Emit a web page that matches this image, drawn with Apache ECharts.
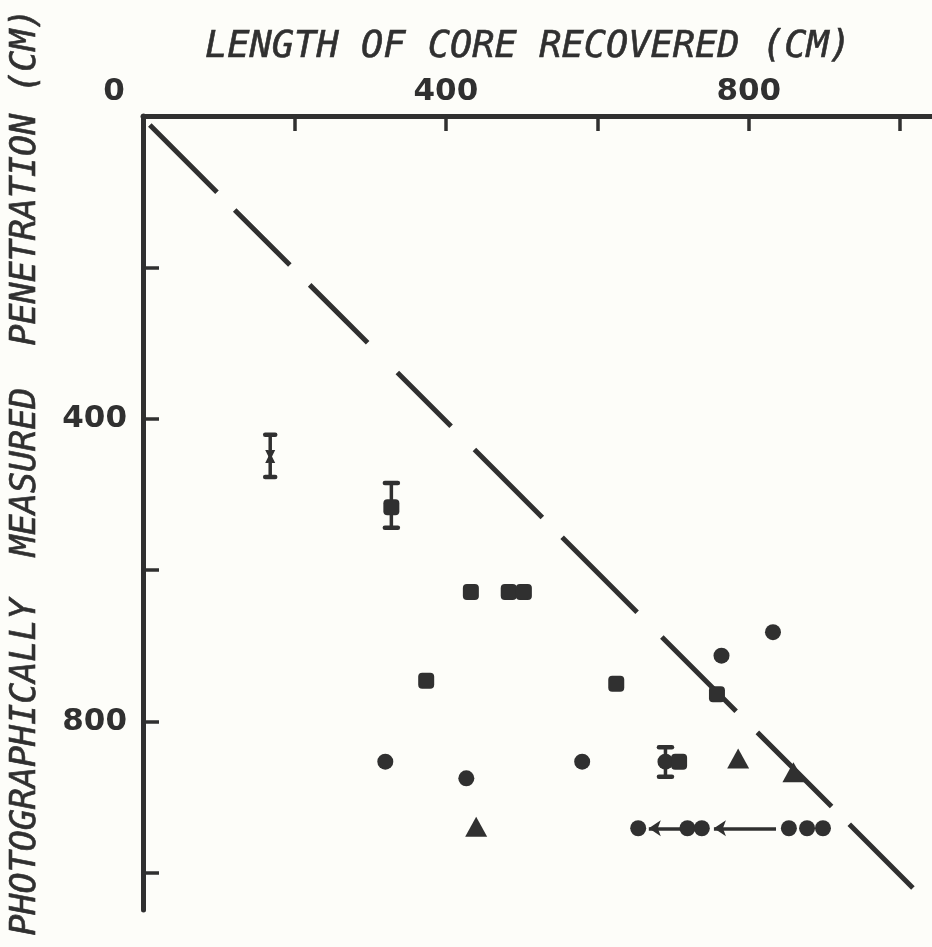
<!DOCTYPE html>
<html>
<head>
<meta charset="utf-8">
<script src="https://cdn.jsdelivr.net/npm/echarts@6/dist/echarts.min.js"></script>
<style>
  html, body { margin: 0; padding: 0; background: #fdfdf9; }
  #chart { width: 932px; height: 947px; }
</style>
</head>
<body>
<div id="chart"></div>
<script>
// Axis ticks and labels (cm)
const xTickValues = [200, 400, 600, 800, 1000];
const xLabelValues = [0, 400, 800];
const yTickValues = [200, 400, 600, 800, 1000];
const yLabelValues = [400, 800];

// [core length recovered, measured penetration] in cm
const circlePoints = [
  [832, 682], [764, 713], [320, 853], [427, 875], [580, 853], [690, 853],
  [654, 941], [719, 941], [738, 941], [853, 941], [877, 941], [898, 941]
];
const squarePoints = [
  [328, 517], [433, 629], [483, 629], [503, 629], [374, 746],
  [625, 750], [758, 764], [708, 853]
];
const trianglePoints = [[440, 939], [786, 849], [859, 867]];
const crossPoints = [[168, 450]];

// Penetration uncertainty: [core length, low, high]
const crossErrors = [[168, 421, 477]];
const squareErrors = [[328, 485, 544]];
const circleErrors = [[690, 834, 873]];

// Shift arrows: [from core length, to core length, penetration]
const arrows = [[836, 754, 941], [713, 668, 941]];

// 1:1 reference line
const equalityLine = [[9, 12], [1017, 1020]];

const INK = '#303030';
const LABEL_FONT = 'DejaVu Sans';
const TITLE_FONT = 'DejaVu Sans Mono';

function errorBars(data, capHalf) {
  return {
    type: 'custom',
    data: data,
    encode: { x: 0, y: [1, 2] },
    silent: true,
    z: 4,
    renderItem: function (params, api) {
      const x = api.value(0);
      const top = api.coord([x, api.value(1)]);
      const bot = api.coord([x, api.value(2)]);
      const bar = { stroke: INK, lineWidth: 3.5, lineCap: 'round' };
      const cap = { stroke: INK, lineWidth: 4.5, lineCap: 'round' };
      return {
        type: 'group',
        children: [
          { type: 'line', shape: { x1: top[0], y1: top[1], x2: bot[0], y2: bot[1] }, style: bar },
          { type: 'line', shape: { x1: top[0] - capHalf, y1: top[1], x2: top[0] + capHalf, y2: top[1] }, style: cap },
          { type: 'line', shape: { x1: bot[0] - capHalf, y1: bot[1], x2: bot[0] + capHalf, y2: bot[1] }, style: cap }
        ]
      };
    }
  };
}

const chart = echarts.init(document.getElementById('chart'), null, { renderer: 'canvas' });

chart.setOption({
  backgroundColor: '#fdfdf9',
  animation: false,
  grid: { left: 143, top: 116, width: 789, height: 794, containLabel: false },
  xAxis: {
    type: 'value',
    position: 'top',
    min: 0,
    max: 1042,
    interval: 200,
    axisLine: { show: true, onZero: false, lineStyle: { color: INK, width: 5, cap: 'round' } },
    axisTick: { show: true, inside: true, length: 15, customValues: xTickValues, lineStyle: { color: INK, width: 3.5 } },
    axisLabel: {
      customValues: xLabelValues,
      margin: 9,
      color: INK,
      fontFamily: LABEL_FONT,
      fontWeight: 'bold',
      fontSize: 31,
      formatter: function (v) { return v === 0 ? '{z|0}' : String(v); },
      rich: { z: { padding: [0, 58, 0, 0], fontSize: 31, fontWeight: 'bold', fontFamily: LABEL_FONT, color: INK } }
    },
    splitLine: { show: false }
  },
  yAxis: {
    type: 'value',
    inverse: true,
    min: 0,
    max: 1049,
    interval: 200,
    axisLine: { show: true, onZero: false, lineStyle: { color: INK, width: 5, cap: 'round' } },
    axisTick: { show: true, inside: true, length: 16, customValues: yTickValues, lineStyle: { color: INK, width: 3.5 } },
    axisLabel: {
      customValues: yLabelValues,
      margin: 16,
      color: INK,
      fontFamily: LABEL_FONT,
      fontWeight: 'bold',
      fontSize: 31
    },
    splitLine: { show: false }
  },
  graphic: [
    {
      type: 'text',
      x: 528, y: 47,
      style: {
        text: 'LENGTH OF CORE RECOVERED (CM)',
        font: 'italic 37px "' + TITLE_FONT + '"',
        fill: INK,
        stroke: INK,
        lineWidth: 0.6,
        textAlign: 'center',
        textVerticalAlign: 'middle'
      }
    },
    {
      type: 'text',
      x: 26, y: 472,
      rotation: Math.PI / 2,
      style: {
        text: 'PHOTOGRAPHICALLY  MEASURED  PENETRATION (CM)',
        font: 'italic 35px "' + TITLE_FONT + '"',
        fill: INK,
        stroke: INK,
        lineWidth: 0.6,
        textAlign: 'center',
        textVerticalAlign: 'middle'
      }
    }
  ],
  series: [
    {
      type: 'line',
      data: equalityLine,
      showSymbol: false,
      silent: true,
      z: 1,
      lineStyle: {
        color: INK,
        width: 5,
        cap: 'butt',
        type: [95, 25, 78, 28, 82, 42, 76, 33, 96, 28, 106, 35, 105, 30, 105, 25, 90, 40]
      }
    },
    {
      type: 'lines',
      coordinateSystem: 'cartesian2d',
      silent: true,
      z: 3,
      symbol: ['none', 'arrow'],
      symbolSize: 12,
      lineStyle: { color: INK, width: 3.5, opacity: 1 },
      data: arrows.map(function (a) { return { coords: [[a[0], a[2]], [a[1], a[2]]] }; })
    },
    errorBars(crossErrors, 5),
    errorBars(squareErrors, 6.5),
    errorBars(circleErrors, 6.5),
    {
      type: 'scatter',
      data: circlePoints,
      symbol: 'circle',
      symbolSize: 16,
      z: 5,
      itemStyle: { color: INK, opacity: 1 }
    },
    {
      type: 'scatter',
      data: squarePoints,
      symbol: 'roundRect',
      symbolSize: 16,
      z: 5,
      itemStyle: { color: INK, opacity: 1 }
    },
    {
      type: 'scatter',
      data: trianglePoints,
      symbol: 'triangle',
      symbolSize: [22, 20],
      z: 5,
      itemStyle: { color: INK, opacity: 1 }
    },
    {
      type: 'scatter',
      data: crossPoints,
      symbol: 'path://M0,0 L3.4,0 L5,3.6 L6.6,0 L10,0 L6.8,6 L10,12 L6.6,12 L5,8.4 L3.4,12 L0,12 L3.2,6 Z',
      symbolSize: [10, 13],
      z: 5,
      itemStyle: { color: INK, opacity: 1 }
    }
  ]
});
</script>
</body>
</html>
